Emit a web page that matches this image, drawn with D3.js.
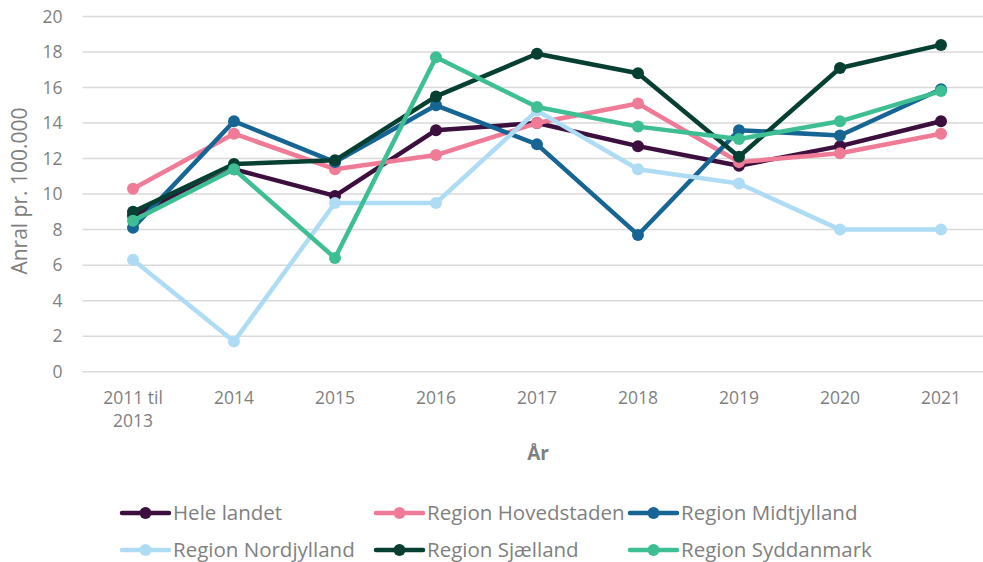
<!DOCTYPE html>
<html>
<head>
<meta charset="utf-8">
<script src="https://cdn.jsdelivr.net/npm/d3@7"></script>
<style>
  body { margin: 0; background: #fff; }
  text { font-family: "Open Sans", Lato, sans-serif; }
</style>
</head>
<body>
<div id="chart"></div>
<script>
// chart data
var categories = ["2011 til 2013", "2014", "2015", "2016", "2017", "2018", "2019", "2020", "2021"];
var seriesNames = ["Hele landet", "Region Hovedstaden", "Region Midtjylland", "Region Nordjylland", "Region Sjælland", "Region Syddanmark"];
var heleLandet  = [8.8, 11.4, 9.9, 13.6, 14.0, 12.7, 11.6, 12.7, 14.1];
var hovedstaden = [10.3, 13.4, 11.4, 12.2, 14.0, 15.1, 11.8, 12.3, 13.4];
var midtjylland = [8.1, 14.1, 11.8, 15.0, 12.8, 7.7, 13.6, 13.3, 15.9];
var nordjylland = [6.3, 1.7, 9.5, 9.5, 14.7, 11.4, 10.6, 8.0, 8.0];
var sjaelland   = [9.0, 11.7, 11.9, 15.5, 17.9, 16.8, 12.1, 17.1, 18.4];
var syddanmark  = [8.5, 11.4, 6.4, 17.7, 14.9, 13.8, 13.1, 14.1, 15.8];
var yTicks = [0, 2, 4, 6, 8, 10, 12, 14, 16, 18, 20];
var colors = ["#3c0f3e", "#f07b97", "#176594", "#aedcf5", "#073f33", "#3ebf93"];

var allSeries = [heleLandet, hovedstaden, midtjylland, nordjylland, sjaelland, syddanmark];

var svgWidth = 983;
var svgHeight = 562;
var margin = { top: 16.5, left: 82.5, right: -8.5, bottom: 190 };
var width = svgWidth - margin.left - margin.right;
var height = 371.7 - margin.top;

var svg = d3.select("#chart")
  .append("svg")
  .attr("width", svgWidth)
  .attr("height", svgHeight);

var chartGroup = svg.append("g")
  .attr("transform", `translate(${margin.left}, ${margin.top})`);

var xScale = d3.scaleBand()
  .domain(categories)
  .range([0, width]);

var yScale = d3.scaleLinear()
  .domain([0, 20])
  .range([height, 0]);

// gridlines
chartGroup.selectAll(".grid")
  .data(yTicks)
  .enter()
  .append("line")
  .attr("x1", 0)
  .attr("x2", width)
  .attr("y1", d => yScale(d))
  .attr("y2", d => yScale(d))
  .attr("stroke", "#d9d9d9")
  .attr("stroke-width", 1.5);

// y axis labels
var leftAxis = d3.axisLeft(yScale).tickValues(yTicks).tickSize(0).tickPadding(20);
var yAxis = chartGroup.append("g").call(leftAxis);
yAxis.select(".domain").remove();
yAxis.selectAll("text")
  .attr("fill", "#7f7f7f")
  .style("font-size", "17.5px");

// x axis labels
var bottomAxis = d3.axisBottom(xScale).tickSize(0).tickPadding(0);
var xAxis = chartGroup.append("g")
  .attr("transform", `translate(0, ${height})`)
  .call(bottomAxis);
xAxis.select(".domain").remove();
xAxis.selectAll("text").remove();
xAxis.selectAll(".tick").each(function(d) {
  var t = d3.select(this).append("text")
    .attr("fill", "#7f7f7f")
    .attr("text-anchor", "middle")
    .style("font-size", "17.5px");
  var parts = d === "2011 til 2013" ? ["2011 til", "2013"] : [d];
  parts.forEach(function(p, i) {
    t.append("tspan").attr("x", 0).attr("y", 32 + i * 23).text(p);
  });
});

// axis titles
svg.append("text")
  .attr("transform", "rotate(-90)")
  .attr("x", -191)
  .attr("y", 27)
  .attr("text-anchor", "middle")
  .attr("fill", "#7f7f7f")
  .style("font-size", "21px")
  .text("Anral pr. 100.000");

svg.append("text")
  .attr("x", 538)
  .attr("y", 460)
  .attr("text-anchor", "middle")
  .attr("fill", "#7f7f7f")
  .style("font-size", "19px")
  .style("font-weight", "bold")
  .text("År");

// lines and markers
var line = d3.line()
  .x((d, i) => xScale(categories[i]) + xScale.bandwidth() / 2)
  .y(d => yScale(d));

allSeries.forEach(function(values, s) {
  var g = chartGroup.append("g");
  g.append("path")
    .datum(values)
    .attr("d", line)
    .attr("fill", "none")
    .attr("stroke", colors[s])
    .attr("stroke-width", 4.5)
    .attr("stroke-linejoin", "round");
  g.selectAll("circle")
    .data(values)
    .enter()
    .append("circle")
    .attr("cx", (d, i) => xScale(categories[i]) + xScale.bandwidth() / 2)
    .attr("cy", d => yScale(d))
    .attr("r", 6)
    .attr("fill", colors[s]);
});

// legend
var legend = svg.append("g");
seriesNames.forEach(function(name, i) {
  var lx = 122 + (i % 3) * 254;
  var ly = 513 + Math.floor(i / 3) * 37;
  var item = legend.append("g").attr("transform", `translate(${lx}, ${ly})`);
  item.append("line")
    .attr("x1", 0).attr("x2", 47)
    .attr("y1", 0).attr("y2", 0)
    .attr("stroke", colors[i])
    .attr("stroke-width", 4.5)
    .attr("stroke-linecap", "round");
  item.append("circle")
    .attr("cx", 23.5).attr("cy", 0).attr("r", 6)
    .attr("fill", colors[i]);
  item.append("text")
    .attr("x", 51)
    .attr("y", 7)
    .attr("fill", "#7f7f7f")
    .style("font-size", "20.5px")
    .text(name);
});
</script>
</body>
</html>
